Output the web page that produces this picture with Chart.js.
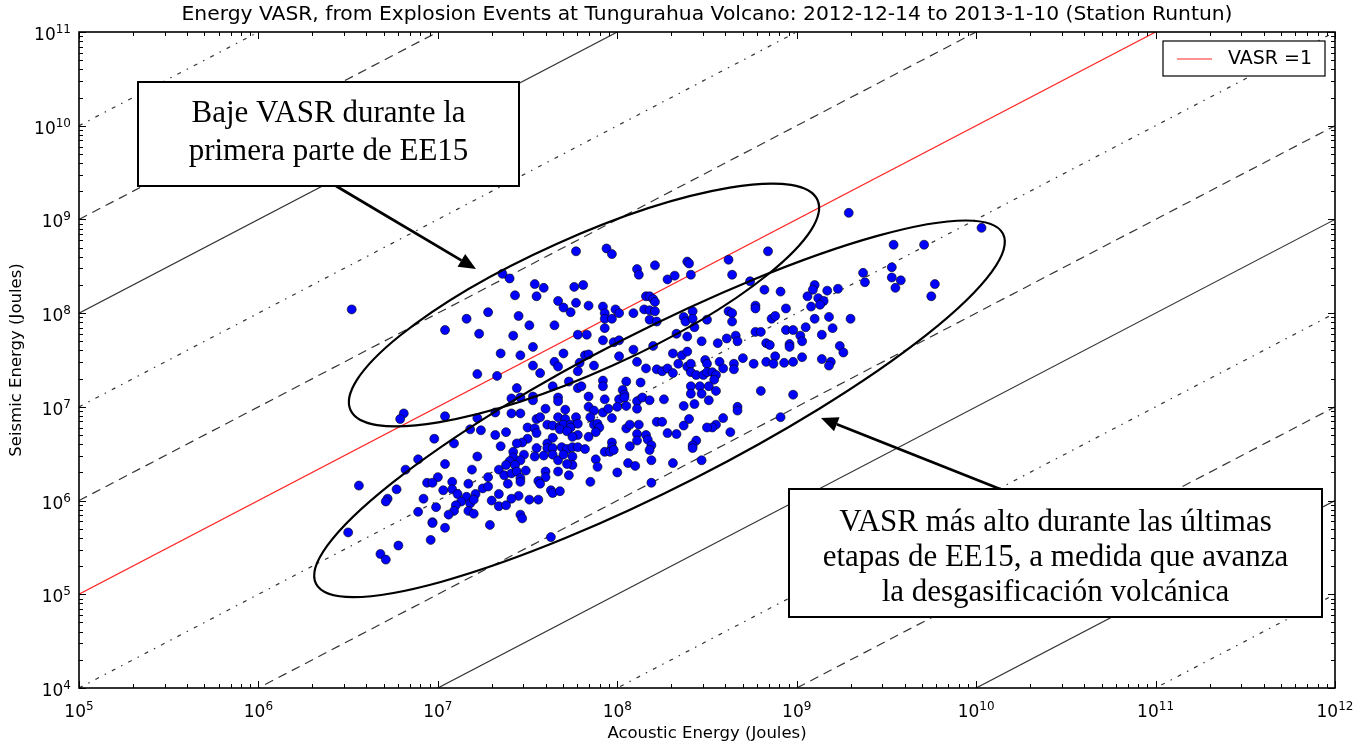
<!DOCTYPE html>
<html>
<head>
<meta charset="utf-8">
<title>Energy VASR - Tungurahua</title>
<script src="https://cdn.jsdelivr.net/npm/chart.js@4.4.0/dist/chart.umd.min.js"></script>
<style>
  html, body { margin: 0; padding: 0; background: #fff; }
  #wrap { width: 1367px; height: 745px; }
</style>
</head>
<body>
<div id="wrap"><canvas id="vasrChart" width="1367" height="745"></canvas></div>
<script>
// axis limits and decade ticks (log10)
const xDecades = [5, 6, 7, 8, 9, 10, 11, 12];
const yDecades = [4, 5, 6, 7, 8, 9, 10, 11];

const chartTitle = 'Energy VASR, from Explosion Events at Tungurahua Volcano: 2012-12-14 to 2013-1-10 (Station Runtun)';

// lines of constant VASR (seismic / acoustic)
const vasrRatios = [1e5, 1e4, 1e3, 1e2, 1e1, 1, 1e-1, 1e-2, 1e-3, 1e-4, 1e-5, 1e-6, 1e-7];

// explosion events: [log10 acoustic energy (J), log10 seismic energy (J)]
const events = [
  [6.52,8.04],[7.16,7.94],[7.28,8.01],[7.04,7.82],[7.23,7.78],[7.35,7.57],[7.22,7.35],[7.33,7.33],
  [7.77,8.66],[7.94,8.69],[7.97,8.63],[7.36,8.42],[7.40,8.37],[8.11,8.47],[8.12,8.41],[8.21,8.51],
  [8.28,8.36],[7.54,8.31],[7.59,8.27],[7.76,8.28],[7.81,8.30],[7.43,8.19],[7.55,8.18],[7.67,8.13],
  [7.70,8.06],[7.74,8.01],[7.77,8.11],[7.84,8.08],[7.92,8.07],[7.93,8.00],[7.93,7.94],[7.97,7.94],
  [7.99,8.04],[8.01,8.00],[8.09,8.00],[8.16,8.18],[8.18,8.18],[8.20,8.15],[8.21,8.12],[8.15,8.04],
  [8.18,8.03],[8.21,8.02],[8.18,7.93],[8.22,7.91],[7.45,7.97],[7.51,7.87],[7.65,7.87],[7.93,7.84],
  [7.42,7.76],[7.78,7.77],[7.83,7.77],[7.92,7.71],[7.98,7.69],[8.01,7.71],[8.09,7.61],[8.20,7.65],
  [7.53,7.64],[7.46,7.55],[7.70,7.57],[7.82,7.55],[7.84,7.56],[8.01,7.54],[7.53,7.44],[7.65,7.48],
  [7.67,7.43],[7.79,7.47],[7.87,7.44],[8.11,7.48],[8.16,7.41],[8.22,7.40],[8.25,7.38],[8.28,7.41],
  [7.57,7.36],[7.78,7.38],[7.92,7.28],[8.05,7.27],[8.13,7.26],[7.73,7.27],
  [8.84,8.66],[8.62,8.57],[8.39,8.55],[8.40,8.53],[8.32,8.40],[8.41,8.41],[8.64,8.41],[8.74,8.34],
  [8.82,8.25],[8.91,8.23],[9.10,8.30],[9.09,8.25],[9.17,8.24],[9.23,8.26],[9.06,8.18],[9.12,8.16],
  [9.15,8.13],[9.13,8.09],[9.08,8.07],[8.77,8.08],[8.77,8.05],[8.94,8.05],[8.62,8.02],[8.64,8.00],
  [8.64,7.91],[8.42,8.02],[8.37,7.96],[8.38,7.91],[8.42,7.94],[8.43,7.85],[8.50,7.93],[8.86,7.94],
  [8.88,7.97],[9.10,7.94],[9.18,7.96],[8.33,7.78],[8.39,7.75],[8.47,7.70],[8.56,7.68],[8.61,7.73],
  [8.66,7.76],[8.67,7.70],[8.77,7.80],[8.80,7.80],[8.94,7.82],[8.98,7.82],[9.02,7.76],[9.03,7.70],
  [9.05,7.85],[9.14,7.77],[9.20,7.84],[9.24,7.65],[8.83,7.68],[8.85,7.66],[8.96,7.67],[8.96,7.64],
  [8.31,7.57],[8.36,7.55],[8.39,7.59],[8.49,7.50],[8.57,7.48],[8.65,7.46],[8.70,7.52],[8.76,7.46],
  [8.83,7.48],[8.88,7.54],[8.87,7.46],[8.93,7.47],[8.98,7.48],[9.03,7.53],[9.14,7.51],[9.19,7.48],
  [9.18,7.44],[9.26,7.58],[8.34,7.46],[8.39,7.43],[8.41,7.46],[8.41,7.37],[8.44,7.34],[8.48,7.34],
  [8.50,7.46],[8.50,7.37],[8.53,7.37],[8.55,7.34],[8.59,7.41],[8.65,7.40],[8.31,7.36],[8.54,7.29],
  [9.29,9.07],[10.03,8.91],[9.54,8.73],[9.71,8.73],[9.53,8.49],[9.37,8.43],[9.38,8.33],[9.53,8.38],
  [9.58,8.35],[9.55,8.27],[9.77,8.31],[9.75,8.18],[9.30,7.94],
  [6.81,6.93],[6.79,6.87],[7.04,6.90],[7.22,6.88],[7.32,6.94],[7.18,6.76],[7.24,6.75],[7.32,6.70],
  [6.98,6.66],[7.09,6.61],[7.35,6.58],[7.22,6.47],[6.89,6.44],[7.04,6.39],[6.82,6.33],[7.19,6.33],
  [7.34,6.33],[7.00,6.25],[6.94,6.19],[6.97,6.19],[7.08,6.20],[7.28,6.25],[6.56,6.16],[6.77,6.12],
  [7.03,6.11],[7.17,6.18],[7.08,6.12],[7.25,6.13],[7.28,6.15],[7.11,6.07],[6.72,6.02],[6.71,5.99],
  [6.92,6.02],[7.16,6.04],[7.21,6.07],[7.13,5.99],[7.18,5.97],[7.20,6.01],[7.34,6.07],[7.30,6.00],
  [7.34,5.94],[6.99,5.93],[7.10,5.95],[6.89,5.88],[7.09,5.89],[7.06,5.85],[7.17,5.89],[7.20,5.86],
  [6.97,5.77],[6.97,5.76],[7.29,5.74],[7.04,5.71],[6.50,5.66],[6.96,5.58],[6.78,5.52],[6.68,5.43],
  [6.71,5.37],
  [7.44,7.20],[7.64,7.22],[7.78,7.20],[7.80,7.22],[7.92,7.22],[8.03,7.18],[8.04,7.13],[7.41,7.09],
  [7.46,7.10],[7.53,7.11],[7.53,7.07],[7.67,7.10],[7.67,7.06],[7.84,7.11],[7.93,7.08],[8.01,7.08],
  [8.04,7.10],[8.11,7.06],[8.14,7.10],[8.18,7.07],[8.26,7.08],[7.41,6.93],[7.46,6.93],[7.60,6.98],
  [7.71,6.97],[7.84,7.00],[7.87,6.96],[7.92,6.94],[7.95,6.98],[8.00,7.00],[8.05,7.01],[8.11,6.98],
  [7.97,6.88],[7.85,6.89],[7.55,6.87],[7.57,6.89],[7.67,6.89],[7.71,6.87],[7.77,6.89],[8.22,6.84],
  [8.25,6.84],[7.38,6.73],[7.50,6.78],[7.54,6.77],[7.61,6.81],[7.64,6.80],[7.68,6.79],[7.70,6.81],
  [7.74,6.81],[7.78,6.82],[7.68,6.76],[7.74,6.78],[7.72,6.74],[7.87,6.81],[7.89,6.82],[7.90,6.78],
  [7.88,6.73],[8.05,6.77],[8.07,6.81],[8.12,6.81],[7.84,6.68],[7.78,6.70],[7.75,6.68],[8.11,6.71],
  [8.16,6.70],[8.11,6.64],[8.28,6.72],[8.17,6.65],[8.19,6.59],[8.18,6.54],[8.07,6.58],[7.97,6.62],
  [7.97,6.57],[7.93,6.52],[7.96,6.52],[7.98,6.54],[7.50,6.66],[7.47,6.62],[7.44,6.61],[7.55,6.72],
  [7.61,6.61],[7.61,6.56],[7.64,6.67],[7.64,6.56],[7.69,6.57],[7.72,6.55],[7.75,6.57],[7.78,6.57],
  [7.82,6.55],[7.42,6.52],[7.42,6.46],[7.40,6.42],[7.55,6.56],[7.54,6.47],[7.48,6.49],[7.46,6.43],
  [7.59,6.48],[7.64,6.49],[7.67,6.43],[7.70,6.49],[7.75,6.47],[7.75,6.38],[7.72,6.39],[7.88,6.44],
  [7.89,6.36],[8.06,6.40],[8.10,6.37],[8.19,6.43],[7.38,6.38],[7.43,6.38],[7.37,6.27],[7.41,6.29],
  [7.44,6.31],[7.49,6.32],[7.39,6.18],[7.46,6.24],[7.46,6.20],[7.60,6.31],[7.60,6.25],[7.56,6.21],
  [7.57,6.18],[7.67,6.31],[7.73,6.27],[8.00,6.30],[7.85,6.20],[8.19,6.19],[7.45,6.05],[7.41,6.02],
  [7.51,6.01],[7.56,6.01],[7.63,6.11],[7.64,6.08],[7.68,6.10],[7.38,5.95],[7.46,5.85],[7.47,5.81],
  [7.63,5.61],
  [8.41,7.22],[8.46,7.22],[8.51,7.22],[8.55,7.17],[8.47,7.14],[8.51,7.07],[8.41,7.14],[8.80,7.17],
  [8.98,7.13],[8.37,7.01],[8.43,7.03],[8.67,7.00],[8.67,6.96],[8.40,6.87],[8.37,6.80],[8.59,6.88],
  [8.55,6.81],[8.53,6.78],[8.50,6.78],[8.63,6.73],[8.91,6.89],[8.33,6.71],[8.44,6.64],[8.42,6.59],
  [8.42,6.56],[8.31,6.40],[8.47,6.43]
];

// annotation layer (canvas pixels)
const calloutBoxes = [
  { x: 138, y: 82, w: 381, h: 104, firstBaseline: 122, step: 38,
    lines: ['Baje VASR durante la', 'primera parte de EE15'] },
  { x: 789, y: 489, w: 533, h: 128, firstBaseline: 531, step: 35,
    lines: ['VASR más alto durante las últimas', 'etapas de EE15, a medida que avanza', 'la desgasificación volcánica'] }
];
const arrows = [
  { from: [336, 186], to: [476, 269] },
  { from: [1000, 489], to: [821, 418] }
];
const ellipses = [
  { cx: 584, cy: 305, a: 256, b: 67, angle: -24.2 },
  { cx: 659.5, cy: 408.8, a: 385.5, b: 78, angle: -27.0 }
];

const TICK_FONT = 17;
const EXP_FONT = 12;

function lineStyle(ratio) {
    const k = Math.round(Math.log10(ratio));
    if (k === 0) return { color: 'rgba(255, 0, 0, 0.85)', dash: [] };
    const m = ((k % 3) + 3) % 3;
    if (m === 0) return { color: 'rgba(0, 0, 0, 0.8)', dash: [] };
    if (m === 1) return { color: 'rgba(0, 0, 0, 0.8)', dash: [9, 6] };
    return { color: 'rgba(0, 0, 0, 0.8)', dash: [4, 6.5, 1.5, 6.5] };
}

const lineDatasets = vasrRatios.map(r => {
    const st = lineStyle(r);
    return {
        type: 'line',
        label: r === 1 ? 'VASR =1' : 'VASR ' + r,
        data: [{ x: 1e5, y: 1e5 * r }, { x: 1e12, y: 1e12 * r }],
        borderColor: st.color,
        borderWidth: 1.2,
        borderDash: st.dash,
        pointRadius: 0,
        fill: false,
        order: 2
    };
});

const eventDataset = {
    type: 'scatter',
    label: 'events',
    data: events.map(([a, s]) => ({ x: Math.pow(10, a), y: Math.pow(10, s) })),
    backgroundColor: '#0000ff',
    borderColor: '#000000',
    borderWidth: 0.6,
    pointRadius: 4.5,
    order: 1
};

function drawPowerLabel(ctx, exp, x, y, align) {
    ctx.font = TICK_FONT + 'px "DejaVu Sans"';
    const wBase = ctx.measureText('10').width;
    ctx.font = EXP_FONT + 'px "DejaVu Sans"';
    const wExp = ctx.measureText(String(exp)).width;
    const left = align === 'center' ? x - (wBase + wExp) / 2 : x - (wBase + wExp);
    ctx.textAlign = 'left';
    ctx.textBaseline = 'alphabetic';
    ctx.fillStyle = '#000';
    ctx.font = TICK_FONT + 'px "DejaVu Sans"';
    ctx.fillText('10', left, y);
    ctx.font = EXP_FONT + 'px "DejaVu Sans"';
    ctx.fillText(String(exp), left + wBase, y - 7);
}

// ellipses, arrows and text boxes on top of the data
const annotationLayer = {
    id: 'annotationLayer',
    afterDatasetsDraw(chart) {
        const ctx = chart.ctx;
        ctx.save();
        ctx.strokeStyle = '#000';
        ctx.lineWidth = 2.2;
        ellipses.forEach(e => {
            ctx.beginPath();
            ctx.ellipse(e.cx, e.cy, e.a, e.b, e.angle * Math.PI / 180, 0, Math.PI * 2);
            ctx.stroke();
        });

        arrows.forEach(ar => {
            const [x0, y0] = ar.from;
            const [x1, y1] = ar.to;
            const ang = Math.atan2(y1 - y0, x1 - x0);
            const headLen = 17, headW = 7.5;
            const bx = x1 - headLen * Math.cos(ang);
            const by = y1 - headLen * Math.sin(ang);
            ctx.lineWidth = 2.8;
            ctx.beginPath();
            ctx.moveTo(x0, y0);
            ctx.lineTo(bx, by);
            ctx.stroke();
            ctx.fillStyle = '#000';
            ctx.beginPath();
            ctx.moveTo(x1, y1);
            ctx.lineTo(bx + headW * Math.sin(ang), by - headW * Math.cos(ang));
            ctx.lineTo(bx - headW * Math.sin(ang), by + headW * Math.cos(ang));
            ctx.closePath();
            ctx.fill();
        });

        calloutBoxes.forEach(b => {
            ctx.fillStyle = '#fff';
            ctx.fillRect(b.x, b.y, b.w, b.h);
            ctx.lineWidth = 2;
            ctx.strokeStyle = '#000';
            ctx.strokeRect(b.x, b.y, b.w, b.h);
            ctx.fillStyle = '#000';
            ctx.font = '31px "Liberation Serif"';
            ctx.textAlign = 'center';
            ctx.textBaseline = 'alphabetic';
            b.lines.forEach((t, i) => {
                ctx.fillText(t, b.x + b.w / 2, b.firstBaseline + i * b.step);
            });
        });
        ctx.restore();
    }
};

// matplotlib-like frame, inward ticks, power-of-ten labels, title and legend
const frameLayer = {
    id: 'frameLayer',
    afterDraw(chart) {
        const ctx = chart.ctx;
        const area = chart.chartArea;
        const xs = chart.scales.x;
        const ys = chart.scales.y;
        ctx.save();
        ctx.strokeStyle = '#000';
        ctx.lineWidth = 1;
        ctx.beginPath();
        xDecades.forEach((d, i) => {
            for (let m = 1; m <= 9; m++) {
                if (i === xDecades.length - 1 && m > 1) break;
                const px = Math.round(xs.getPixelForValue(m * Math.pow(10, d))) + 0.5;
                const len = m === 1 ? 7 : 4;
                ctx.moveTo(px, area.bottom); ctx.lineTo(px, area.bottom - len);
                ctx.moveTo(px, area.top); ctx.lineTo(px, area.top + len);
            }
        });
        yDecades.forEach((d, i) => {
            for (let m = 1; m <= 9; m++) {
                if (i === yDecades.length - 1 && m > 1) break;
                const py = Math.round(ys.getPixelForValue(m * Math.pow(10, d))) + 0.5;
                const len = m === 1 ? 7 : 4;
                ctx.moveTo(area.left, py); ctx.lineTo(area.left + len, py);
                ctx.moveTo(area.right, py); ctx.lineTo(area.right - len, py);
            }
        });
        ctx.stroke();

        ctx.lineWidth = 1.6;
        ctx.strokeRect(area.left, area.top, area.right - area.left, area.bottom - area.top);

        xDecades.forEach(d => {
            drawPowerLabel(ctx, d, xs.getPixelForValue(Math.pow(10, d)), area.bottom + 29, 'center');
        });
        yDecades.forEach(d => {
            drawPowerLabel(ctx, d, area.left - 8, ys.getPixelForValue(Math.pow(10, d)) + 8, 'right');
        });

        // title centred over the axes, as matplotlib does
        ctx.fillStyle = '#000';
        ctx.font = '20.3px "DejaVu Sans"';
        ctx.textAlign = 'center';
        ctx.textBaseline = 'middle';
        ctx.fillText(chartTitle, (area.left + area.right) / 2, 15);

        // legend (only the VASR = 1 line)
        const red = lineDatasets[vasrRatios.indexOf(1)];
        const lx = area.right - 172, ly = area.top + 9;
        ctx.fillStyle = '#fff';
        ctx.fillRect(lx, ly, 162, 35);
        ctx.lineWidth = 1.2;
        ctx.strokeStyle = '#000';
        ctx.strokeRect(lx, ly, 162, 35);
        ctx.strokeStyle = red.borderColor;
        ctx.lineWidth = 1.2;
        ctx.beginPath();
        ctx.moveTo(lx + 14, ly + 18);
        ctx.lineTo(lx + 49, ly + 18);
        ctx.stroke();
        ctx.fillStyle = '#000';
        ctx.font = '19px "DejaVu Sans"';
        ctx.textAlign = 'left';
        ctx.textBaseline = 'middle';
        ctx.fillText(red.label, lx + 65, ly + 18);
        ctx.restore();
    }
};

const ctx = document.getElementById('vasrChart').getContext('2d');
const vasrChart = new Chart(ctx, {
    data: { datasets: [eventDataset, ...lineDatasets] },
    options: {
        responsive: false,
        animation: false,
        events: [],
        layout: { padding: { left: 0, right: 32, top: 32, bottom: 0 } },
        plugins: {
            legend: { display: false },
            tooltip: { enabled: false },
            title: { display: false }
        },
        scales: {
            x: {
                type: 'logarithmic',
                min: 1e5,
                max: 1e12,
                grid: { display: false },
                border: { display: false },
                ticks: { display: false },
                title: {
                    display: true,
                    text: 'Acoustic Energy (Joules)',
                    color: '#000',
                    font: { family: '"DejaVu Sans"', size: 16.5 },
                    padding: { top: 0, bottom: 1 }
                },
                afterFit(scale) { scale.height = 57; }
            },
            y: {
                type: 'logarithmic',
                min: 1e4,
                max: 1e11,
                grid: { display: false },
                border: { display: false },
                ticks: { display: false },
                title: {
                    display: true,
                    text: 'Seismic Energy (Joules)',
                    color: '#000',
                    font: { family: '"DejaVu Sans"', size: 16.5 },
                    padding: { top: 7, bottom: 0 }
                },
                afterFit(scale) { scale.width = 79; }
            }
        }
    },
    plugins: [annotationLayer, frameLayer]
});
</script>
</body>
</html>
